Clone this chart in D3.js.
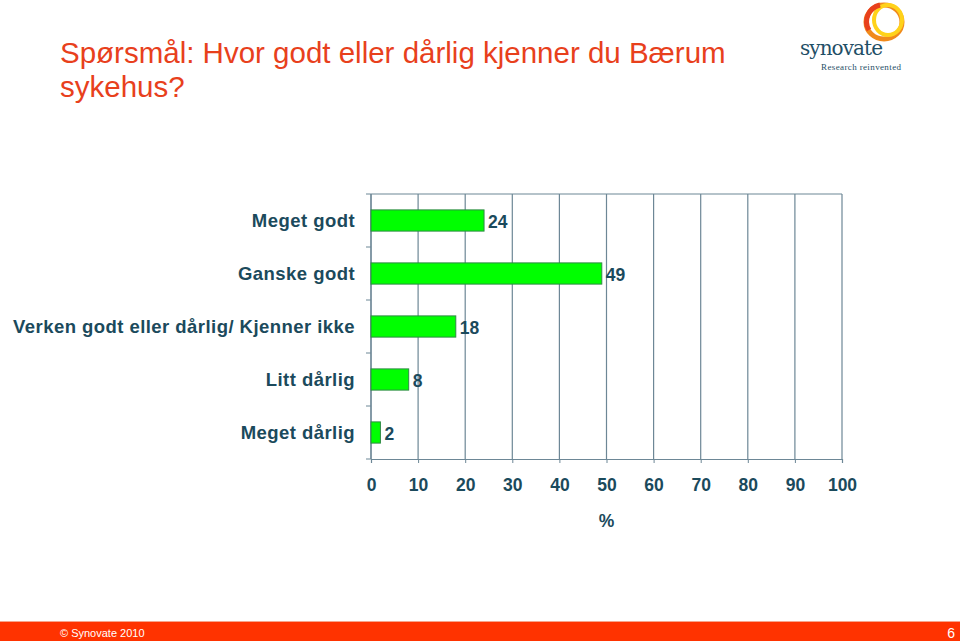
<!DOCTYPE html>
<html>
<head>
<meta charset="utf-8">
<script src="https://cdn.jsdelivr.net/npm/d3@7"></script>
<style>
  body { margin: 0; background: #fff; }
  svg { display: block; font-family: Arial, "Liberation Sans", sans-serif; }
</style>
</head>
<body>
<div id="chart"></div>
<script>
// data
var categories = ["Meget godt", "Ganske godt", "Verken godt eller dårlig/ Kjenner ikke", "Litt dårlig", "Meget dårlig"];
var values = [24, 49, 18, 8, 2];
var xTicks = [0, 10, 20, 30, 40, 50, 60, 70, 80, 90, 100];
var titleLines = ["Spørsmål: Hvor godt eller dårlig kjenner du Bærum", "sykehus?"];

var width = 960, height = 641;
var textColor = "#1b4a5c";
var gridColor = "#6d8796";

var svg = d3.select("#chart").append("svg")
  .attr("width", width)
  .attr("height", height);

// title
svg.append("text")
  .attr("x", 60)
  .attr("y", 63)
  .attr("fill", "#e8401c")
  .style("font-size", "29.5px")
  .selectAll("tspan")
  .data(titleLines)
  .enter()
  .append("tspan")
  .attr("x", 60)
  .attr("dy", (d, i) => i == 0 ? 0 : 34)
  .text(d => d);

// logo
var logo = svg.append("g");
logo.append("ellipse")
  .attr("cx", 884).attr("cy", 22).attr("rx", 18).attr("ry", 17)
  .attr("fill", "none").attr("stroke", "#f08a1c").attr("stroke-width", 5);
logo.append("ellipse")
  .attr("cx", 888).attr("cy", 20).attr("rx", 14).attr("ry", 15)
  .attr("fill", "none").attr("stroke", "#ffd21a").attr("stroke-width", 4);
logo.append("path")
  .attr("d", "M869,30 A18,17 0 0 1 880,5")
  .attr("fill", "none").attr("stroke", "#e8401c").attr("stroke-width", 5);
logo.append("text")
  .attr("x", 800).attr("y", 55)
  .attr("fill", "#1f4f66")
  .style("font-family", "'DejaVu Serif', 'Liberation Serif', serif")
  .style("font-size", "20px")
  .attr("textLength", 83)
  .text("synovate");
logo.append("text")
  .attr("x", 821).attr("y", 70)
  .attr("fill", "#1f4f66")
  .style("font-family", "'Liberation Serif', serif")
  .style("font-size", "9px")
  .attr("textLength", 80)
  .text("Research reinvented");

// chart
var plot = { left: 371, right: 842, top: 194, bottom: 459 };

var x = d3.scaleLinear()
  .domain([0, 100])
  .range([plot.left, plot.right]);

var y = d3.scaleBand()
  .domain(categories)
  .range([plot.top, plot.bottom])
  .paddingInner(0.6)
  .paddingOuter(0.3);

// gridlines
svg.append("g")
  .selectAll("line")
  .data(xTicks)
  .enter()
  .append("line")
  .attr("x1", d => x(d)).attr("x2", d => x(d))
  .attr("y1", plot.top).attr("y2", plot.bottom)
  .attr("stroke", gridColor)
  .attr("stroke-width", 1.2);

svg.append("line")
  .attr("x1", plot.left).attr("x2", plot.right)
  .attr("y1", plot.top).attr("y2", plot.top)
  .attr("stroke", gridColor)
  .attr("stroke-width", 1.2);

// x axis
var xAxis = svg.append("g")
  .attr("transform", `translate(0 ${plot.bottom})`)
  .call(d3.axisBottom(x).tickValues(xTicks).tickSizeOuter(0).tickSize(4).tickPadding(16));
xAxis.select(".domain").attr("stroke", gridColor).attr("stroke-width", 1.2);
xAxis.selectAll(".tick line").attr("stroke", gridColor);
xAxis.selectAll(".tick text")
  .attr("fill", textColor)
  .style("font-size", "17.5px")
  .style("font-weight", "bold")
  .style("font-family", "Arial, 'Liberation Sans', sans-serif");

svg.append("text")
  .attr("x", x(50))
  .attr("y", 527)
  .attr("text-anchor", "middle")
  .attr("fill", textColor)
  .style("font-size", "17.5px")
  .style("font-weight", "bold")
  .text("%");

// y axis: ticks between categories
var bounds = d3.range(categories.length + 1).map(i => plot.top + i * y.step());
var yAxis = svg.append("g");
yAxis.append("line")
  .attr("x1", plot.left).attr("x2", plot.left)
  .attr("y1", plot.top).attr("y2", plot.bottom)
  .attr("stroke", gridColor).attr("stroke-width", 1.2);
yAxis.selectAll(".ytick")
  .data(bounds)
  .enter()
  .append("line")
  .attr("class", "ytick")
  .attr("x1", plot.left - 5).attr("x2", plot.left)
  .attr("y1", d => d).attr("y2", d => d)
  .attr("stroke", gridColor);

yAxis.selectAll(".ylab")
  .data(categories)
  .enter()
  .append("text")
  .attr("class", "ylab")
  .attr("x", 355)
  .attr("y", d => y(d) + y.bandwidth() / 2)
  .attr("dy", "0.35em")
  .attr("text-anchor", "end")
  .attr("fill", textColor)
  .style("font-size", "18.5px")
  .style("letter-spacing", "0.45px")
  .style("font-weight", "bold")
  .text(d => d);

// bars
var rows = categories.map((c, i) => ({ name: c, value: values[i] }));

svg.append("g")
  .selectAll("rect")
  .data(rows)
  .enter()
  .append("rect")
  .attr("x", x(0))
  .attr("y", d => y(d.name))
  .attr("width", d => x(d.value) - x(0))
  .attr("height", y.bandwidth())
  .attr("fill", "#00ff00")
  .attr("stroke", "#2f8a45")
  .attr("stroke-width", 1);

svg.append("g")
  .selectAll("text")
  .data(rows)
  .enter()
  .append("text")
  .attr("x", d => x(d.value) + 4)
  .attr("y", d => y(d.name) + y.bandwidth() / 2 + 1)
  .attr("dy", "0.35em")
  .attr("fill", textColor)
  .style("font-size", "17.5px")
  .style("font-weight", "bold")
  .text(d => d.value);

// footer
svg.append("rect")
  .attr("x", 0).attr("y", 621)
  .attr("width", width).attr("height", 1)
  .attr("fill", "#f7a58c");
svg.append("rect")
  .attr("x", 0).attr("y", 622)
  .attr("width", width).attr("height", height - 622)
  .attr("fill", "#ff3300");
svg.append("text")
  .attr("x", 60).attr("y", 637)
  .attr("fill", "#fff")
  .style("font-size", "11px")
  .text("© Synovate 2010");
svg.append("text")
  .attr("x", 955).attr("y", 638)
  .attr("text-anchor", "end")
  .attr("fill", "#fff")
  .style("font-size", "14px")
  .text("6");
</script>
</body>
</html>
